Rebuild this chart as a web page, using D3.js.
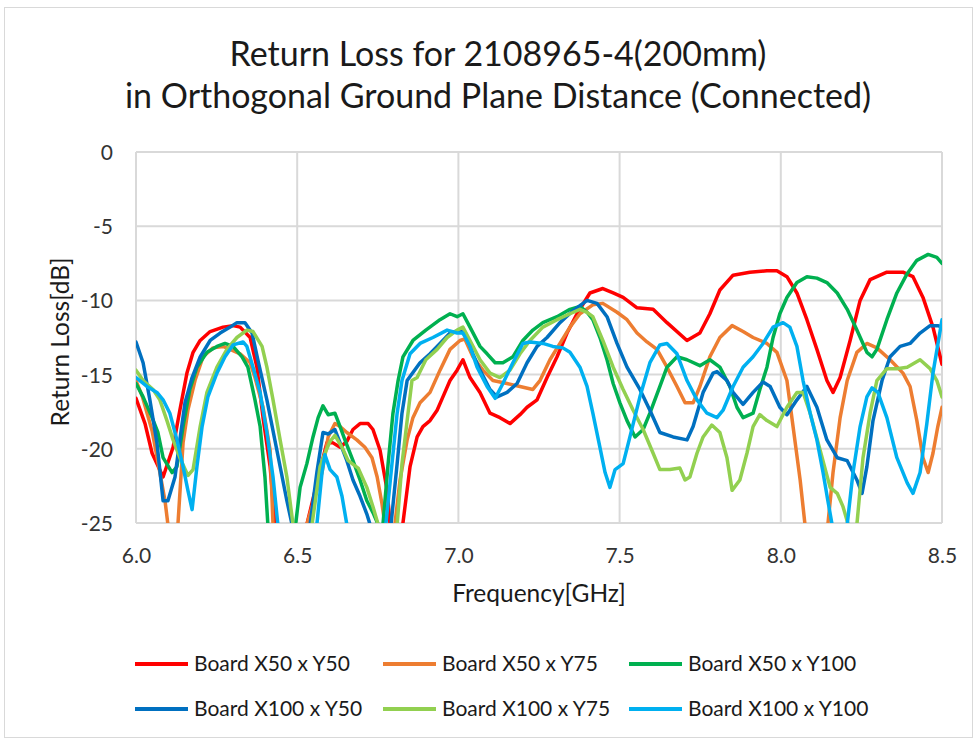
<!DOCTYPE html>
<html>
<head>
<meta charset="utf-8">
<script src="https://cdn.jsdelivr.net/npm/d3@7"></script>
<style>
  html, body { margin: 0; padding: 0; background: #ffffff; }
  svg { display: block; font-family: Lato, "Open Sans", sans-serif; }
</style>
</head>
<body>
<svg id="chart" width="977" height="743"></svg>
<script>
// Return loss measurements, [frequency GHz, return loss dB]
const boardX50Y50 = [[6.000,-16.6],[6.028,-18.3],[6.050,-20.3],[6.084,-21.9],[6.115,-19.9],[6.136,-17.4],[6.158,-14.9],[6.177,-13.5],[6.199,-12.7],[6.230,-12.1],[6.270,-11.8],[6.301,-11.7],[6.323,-11.8],[6.354,-12.5],[6.375,-14.5],[6.394,-17.9],[6.416,-21.2],[6.431,-25.0],[6.450,-28],[6.510,-29],[6.530,-25.1],[6.571,-21.4],[6.592,-19.6],[6.611,-19.6],[6.633,-19.9],[6.654,-19.5],[6.673,-18.7],[6.695,-18.3],[6.720,-18.3],[6.735,-18.7],[6.757,-20.1],[6.779,-22.8],[6.788,-25.1],[6.800,-28],[6.815,-28],[6.828,-25.0],[6.850,-21.2],[6.872,-19.2],[6.890,-18.5],[6.912,-18.1],[6.934,-17.4],[6.952,-16.5],[6.974,-15.4],[6.996,-14.7],[7.014,-14.0],[7.036,-15.2],[7.067,-16.2],[7.098,-17.6],[7.129,-17.9],[7.160,-18.3],[7.191,-17.7],[7.213,-17.2],[7.244,-16.7],[7.275,-15.2],[7.306,-13.8],[7.337,-12.2],[7.368,-10.9],[7.408,-9.5],[7.448,-9.2],[7.480,-9.5],[7.511,-9.8],[7.554,-10.5],[7.604,-10.6],[7.647,-11.5],[7.709,-12.7],[7.749,-12.2],[7.780,-10.9],[7.811,-9.3],[7.852,-8.3],[7.904,-8.1],[7.957,-8.0],[7.988,-8.0],[8.019,-8.4],[8.050,-9.5],[8.081,-11.3],[8.112,-13.3],[8.143,-15.4],[8.162,-16.2],[8.184,-15.2],[8.215,-12.7],[8.246,-10.0],[8.277,-8.6],[8.329,-8.1],[8.379,-8.1],[8.410,-8.4],[8.441,-9.8],[8.472,-11.8],[8.500,-14.3]];

const boardX50Y75 = [[6.000,-15.4],[6.020,-16.5],[6.050,-18.8],[6.074,-21.6],[6.090,-23.5],[6.099,-25.1],[6.110,-28],[6.125,-28],[6.130,-25.1],[6.146,-19.6],[6.161,-17.4],[6.183,-15.4],[6.208,-13.8],[6.239,-13.2],[6.270,-13.1],[6.292,-13.3],[6.323,-13.6],[6.354,-14.2],[6.369,-15.2],[6.394,-17.2],[6.416,-20.1],[6.425,-25.1],[6.440,-28],[6.520,-28],[6.530,-25.1],[6.577,-21.6],[6.596,-19.2],[6.617,-18.3],[6.633,-18.5],[6.654,-18.9],[6.685,-19.4],[6.710,-19.9],[6.732,-20.6],[6.748,-21.9],[6.763,-23.7],[6.772,-25.1],[6.785,-28],[6.795,-28],[6.803,-25.1],[6.819,-22.1],[6.841,-19.4],[6.859,-17.9],[6.881,-16.9],[6.912,-16.2],[6.943,-14.7],[6.974,-13.3],[7.005,-12.7],[7.020,-12.6],[7.045,-13.8],[7.076,-14.7],[7.107,-15.4],[7.151,-15.6],[7.191,-15.8],[7.231,-16.0],[7.253,-15.4],[7.284,-14.0],[7.315,-12.9],[7.346,-11.8],[7.377,-10.9],[7.417,-10.3],[7.448,-10.2],[7.492,-10.8],[7.523,-11.3],[7.554,-12.2],[7.585,-12.8],[7.616,-13.3],[7.647,-14.5],[7.678,-15.8],[7.703,-16.9],[7.728,-16.9],[7.749,-15.8],[7.780,-13.8],[7.811,-12.5],[7.849,-11.7],[7.883,-12.1],[7.914,-12.5],[7.957,-12.9],[7.988,-13.5],[8.019,-15.4],[8.038,-18.5],[8.060,-22.1],[8.075,-25.1],[8.090,-28],[8.135,-28],[8.146,-25.1],[8.162,-21.6],[8.184,-17.9],[8.206,-15.4],[8.236,-13.5],[8.267,-12.9],[8.298,-13.2],[8.339,-14.0],[8.379,-14.9],[8.401,-15.8],[8.422,-18.1],[8.441,-20.6],[8.457,-21.6],[8.472,-20.3],[8.487,-18.5],[8.500,-17.2]];

const boardX50Y100 = [[6.000,-15.6],[6.022,-16.5],[6.050,-17.9],[6.068,-18.9],[6.084,-20.6],[6.112,-21.6],[6.127,-21.2],[6.146,-18.5],[6.167,-16.0],[6.189,-14.5],[6.220,-13.5],[6.251,-13.1],[6.276,-12.9],[6.301,-13.1],[6.329,-13.8],[6.347,-14.5],[6.369,-16.7],[6.385,-18.5],[6.400,-21.9],[6.409,-25.1],[6.420,-28],[6.480,-28],[6.495,-25.1],[6.509,-22.6],[6.530,-21.0],[6.549,-19.2],[6.565,-17.9],[6.580,-17.1],[6.596,-17.7],[6.617,-17.6],[6.633,-18.5],[6.648,-19.4],[6.673,-20.8],[6.695,-22.1],[6.716,-23.5],[6.735,-24.3],[6.751,-25.1],[6.758,-28],[6.760,-28],[6.766,-25.1],[6.782,-21.0],[6.797,-17.6],[6.813,-15.4],[6.828,-13.8],[6.859,-12.7],[6.899,-12.0],[6.943,-11.3],[6.974,-10.9],[6.996,-11.1],[7.014,-10.9],[7.036,-11.8],[7.067,-13.1],[7.089,-13.6],[7.114,-14.2],[7.138,-14.2],[7.169,-13.8],[7.200,-12.7],[7.231,-12.0],[7.262,-11.5],[7.306,-11.1],[7.346,-10.6],[7.377,-10.4],[7.399,-10.8],[7.417,-11.3],[7.439,-12.5],[7.461,-14.0],[7.480,-15.6],[7.501,-16.9],[7.523,-18.1],[7.548,-19.2],[7.573,-18.7],[7.594,-17.6],[7.625,-15.8],[7.647,-14.5],[7.678,-13.8],[7.709,-14.0],[7.749,-14.4],[7.780,-14.0],[7.811,-14.5],[7.842,-15.8],[7.864,-17.2],[7.883,-17.9],[7.914,-17.6],[7.935,-16.0],[7.957,-14.5],[7.976,-12.5],[7.997,-10.9],[8.019,-9.8],[8.050,-8.8],[8.081,-8.4],[8.112,-8.5],[8.143,-8.8],[8.175,-9.5],[8.206,-10.6],[8.236,-12.0],[8.267,-13.5],[8.283,-13.8],[8.298,-13.3],[8.329,-11.3],[8.360,-9.5],[8.392,-8.2],[8.422,-7.3],[8.457,-6.9],[8.484,-7.1],[8.500,-7.5]];

const boardX100Y50 = [[6.000,-12.8],[6.022,-14.2],[6.043,-16.7],[6.065,-19.6],[6.084,-23.5],[6.099,-23.5],[6.121,-21.9],[6.136,-19.4],[6.152,-16.9],[6.174,-15.2],[6.199,-13.8],[6.230,-12.7],[6.261,-12.2],[6.292,-11.8],[6.313,-11.5],[6.338,-11.5],[6.360,-12.2],[6.378,-14.0],[6.406,-16.7],[6.437,-20.1],[6.468,-23.5],[6.484,-25.1],[6.500,-28],[6.530,-28],[6.540,-25.1],[6.561,-21.6],[6.580,-18.9],[6.596,-19.0],[6.617,-18.7],[6.633,-19.6],[6.654,-20.8],[6.673,-22.1],[6.695,-23.2],[6.716,-24.4],[6.726,-25.1],[6.740,-28],[6.780,-28],[6.791,-25.1],[6.810,-21.0],[6.825,-17.6],[6.841,-15.4],[6.881,-14.2],[6.912,-13.6],[6.943,-12.9],[6.974,-12.2],[7.005,-12.0],[7.027,-12.5],[7.045,-13.6],[7.067,-14.7],[7.098,-16.0],[7.120,-16.5],[7.151,-16.2],[7.182,-15.6],[7.213,-14.2],[7.244,-13.1],[7.275,-12.5],[7.315,-11.5],[7.355,-10.7],[7.399,-10.0],[7.430,-10.2],[7.461,-11.1],[7.492,-12.9],[7.523,-14.5],[7.563,-16.0],[7.594,-17.4],[7.625,-18.9],[7.666,-19.2],[7.709,-19.4],[7.728,-18.5],[7.759,-16.2],[7.790,-14.9],[7.802,-14.8],[7.833,-15.4],[7.852,-16.2],[7.883,-17.0],[7.914,-16.2],[7.945,-15.5],[7.967,-15.8],[7.997,-17.2],[8.019,-17.7],[8.050,-16.7],[8.081,-15.8],[8.112,-17.2],[8.143,-19.4],[8.175,-20.6],[8.206,-20.8],[8.236,-22.1],[8.252,-23.0],[8.267,-21.2],[8.286,-18.1],[8.314,-15.4],[8.339,-13.8],[8.370,-13.1],[8.401,-12.9],[8.432,-12.2],[8.463,-11.7],[8.487,-11.7],[8.500,-11.8]];

const boardX100Y75 = [[6.000,-14.7],[6.022,-15.4],[6.053,-16.0],[6.074,-16.7],[6.096,-18.1],[6.115,-19.4],[6.136,-20.6],[6.161,-21.8],[6.177,-21.4],[6.199,-18.5],[6.220,-16.2],[6.251,-14.5],[6.282,-13.3],[6.313,-12.5],[6.344,-12.0],[6.363,-12.1],[6.391,-13.1],[6.406,-14.5],[6.425,-16.7],[6.447,-19.4],[6.468,-21.9],[6.487,-25.1],[6.500,-28],[6.540,-28],[6.546,-25.1],[6.571,-21.2],[6.586,-20.3],[6.602,-19.5],[6.617,-19.1],[6.639,-19.9],[6.658,-20.8],[6.689,-21.3],[6.716,-22.6],[6.735,-23.9],[6.751,-25.1],[6.770,-28],[6.795,-28],[6.810,-25.1],[6.825,-21.0],[6.841,-18.1],[6.856,-15.4],[6.872,-15.2],[6.899,-14.0],[6.934,-13.3],[6.965,-12.5],[6.996,-12.0],[7.014,-11.8],[7.036,-12.7],[7.067,-14.0],[7.098,-14.9],[7.129,-15.2],[7.160,-14.7],[7.191,-13.6],[7.222,-12.7],[7.262,-11.8],[7.306,-11.3],[7.346,-10.9],[7.377,-10.6],[7.399,-10.8],[7.417,-11.1],[7.448,-12.7],[7.480,-14.5],[7.511,-16.0],[7.542,-17.4],[7.573,-18.7],[7.604,-20.3],[7.625,-21.4],[7.656,-21.4],[7.687,-21.3],[7.703,-22.1],[7.718,-21.9],[7.740,-20.3],[7.759,-19.2],[7.786,-18.4],[7.811,-18.9],[7.833,-20.6],[7.849,-22.8],[7.873,-22.1],[7.895,-20.3],[7.914,-18.5],[7.935,-17.7],[7.957,-18.1],[7.988,-18.5],[8.019,-17.2],[8.050,-16.2],[8.069,-16.2],[8.091,-17.6],[8.122,-20.1],[8.153,-22.6],[8.175,-23.0],[8.193,-23.9],[8.209,-25.1],[8.220,-28],[8.230,-28],[8.236,-25.1],[8.255,-20.6],[8.277,-17.6],[8.298,-15.4],[8.329,-14.6],[8.360,-14.6],[8.392,-14.5],[8.432,-14.0],[8.463,-14.6],[8.484,-15.4],[8.500,-16.5]];

const boardX100Y100 = [[6.000,-15.2],[6.034,-15.8],[6.065,-16.2],[6.084,-16.7],[6.105,-17.6],[6.127,-19.4],[6.146,-21.2],[6.161,-22.8],[6.174,-24.1],[6.189,-21.2],[6.205,-18.5],[6.223,-16.5],[6.251,-14.9],[6.276,-13.8],[6.301,-13.0],[6.332,-12.8],[6.344,-13.1],[6.363,-14.5],[6.385,-16.2],[6.406,-18.9],[6.425,-21.9],[6.440,-25.1],[6.450,-28],[6.550,-28],[6.561,-25.1],[6.577,-21.6],[6.586,-20.4],[6.602,-21.4],[6.623,-21.9],[6.639,-23.2],[6.654,-25.1],[6.665,-28],[6.765,-28],[6.775,-25.1],[6.794,-21.0],[6.810,-17.6],[6.825,-15.4],[6.850,-13.6],[6.881,-12.9],[6.921,-12.5],[6.965,-12.0],[6.996,-12.2],[7.014,-12.2],[7.036,-13.1],[7.058,-14.5],[7.089,-15.8],[7.114,-16.6],[7.138,-15.6],[7.169,-14.2],[7.200,-12.9],[7.222,-12.8],[7.262,-12.9],[7.293,-13.1],[7.324,-13.2],[7.346,-13.5],[7.377,-14.5],[7.399,-15.8],[7.417,-17.6],[7.439,-19.9],[7.455,-21.6],[7.470,-22.6],[7.486,-21.4],[7.511,-21.0],[7.532,-19.2],[7.563,-16.5],[7.594,-14.2],[7.625,-13.0],[7.647,-12.9],[7.678,-13.6],[7.709,-15.4],[7.740,-16.7],[7.771,-17.6],[7.802,-17.9],[7.821,-17.4],[7.852,-15.8],[7.883,-14.5],[7.914,-13.8],[7.945,-12.9],[7.976,-11.8],[8.007,-11.5],[8.028,-11.8],[8.050,-13.1],[8.069,-15.4],[8.091,-17.6],[8.112,-19.4],[8.131,-21.6],[8.146,-23.5],[8.159,-25.1],[8.170,-28],[8.195,-28],[8.206,-25.1],[8.224,-21.6],[8.246,-18.5],[8.267,-16.5],[8.283,-15.9],[8.301,-16.2],[8.329,-17.9],[8.360,-20.6],[8.392,-22.3],[8.410,-23.0],[8.432,-21.6],[8.453,-18.3],[8.472,-14.9],[8.500,-11.3]];

const seriesNames = ["Board X50 x Y50", "Board X50 x Y75", "Board X50 x Y100",
                     "Board X100 x Y50", "Board X100 x Y75", "Board X100 x Y100"];
const seriesColors = ["#FF0000", "#ED7D31", "#00B050", "#0070C0", "#92D050", "#00B0F0"];
const seriesValues = [boardX50Y50, boardX50Y75, boardX50Y100, boardX100Y50, boardX100Y75, boardX100Y100];

const xTicks = [6.0, 6.5, 7.0, 7.5, 8.0, 8.5];
const yTicks = [0, -5, -10, -15, -20, -25];
const titleLines = ["Return Loss for 2108965-4(200mm)", "in Orthogonal Ground Plane Distance (Connected)"];

const svg = d3.select("#chart");
const W = 977, H = 743;
const plot = { left: 136, right: 942, top: 152, bottom: 523 };

svg.append("rect").attr("width", W).attr("height", H).attr("fill", "#ffffff");
// chart frame
svg.append("rect")
  .attr("x", 4.5).attr("y", 7.5).attr("width", 968).attr("height", 730)
  .attr("fill", "none").attr("stroke", "#d9d9d9").attr("stroke-width", 1);

const x = d3.scaleLinear().domain([6.0, 8.5]).range([plot.left, plot.right]);
const y = d3.scaleLinear().domain([-25, 0]).range([plot.bottom, plot.top]);

// title
svg.append("g").selectAll("text").data(titleLines).join("text")
  .attr("x", 498).attr("y", (d, i) => 66 + i * 42)
  .attr("text-anchor", "middle").attr("font-size", 34).attr("fill", "#1a1a1a")
  .text(d => d);

// gridlines
const grid = svg.append("g").attr("stroke", "#d9d9d9").attr("stroke-width", 2);
grid.selectAll("line.h").data(yTicks).join("line").attr("class", "h")
  .attr("x1", plot.left).attr("x2", plot.right)
  .attr("y1", d => y(d)).attr("y2", d => y(d));
grid.selectAll("line.v").data(xTicks).join("line").attr("class", "v")
  .attr("y1", plot.top).attr("y2", plot.bottom)
  .attr("x1", d => x(d)).attr("x2", d => x(d));

// axes
const xAxis = svg.append("g").attr("transform", `translate(0,${plot.bottom})`)
  .call(d3.axisBottom(x).tickValues(xTicks).tickFormat(d3.format(".1f")).tickSize(0));
xAxis.select(".domain").remove();
xAxis.selectAll("text").attr("y", 40).attr("dy", 0)
  .attr("font-size", 21).attr("font-family", "Lato").attr("fill", "#333");

const yAxis = svg.append("g").attr("transform", `translate(${plot.left},0)`)
  .call(d3.axisLeft(y).tickValues(yTicks).tickFormat(d3.format("d")).tickSize(0).tickPadding(23));
yAxis.select(".domain").remove();
yAxis.selectAll("text").attr("dy", "0.36em")
  .attr("font-size", 21).attr("font-family", "Lato").attr("fill", "#333")
  .text(d => d === 0 ? "0" : String(d).replace("\u2212", "-"));

// axis titles
svg.append("text").attr("x", (plot.left + plot.right) / 2).attr("y", 602)
  .attr("text-anchor", "middle").attr("font-size", 24.5).attr("fill", "#1a1a1a")
  .text("Frequency[GHz]");
svg.append("text")
  .attr("transform", `translate(69,342) rotate(-90)`)
  .attr("text-anchor", "middle").attr("font-size", 24.5).attr("fill", "#1a1a1a")
  .text("Return Loss[dB]");

// series lines
svg.append("clipPath").attr("id", "plotClip").append("rect")
  .attr("x", plot.left).attr("y", plot.top)
  .attr("width", plot.right - plot.left).attr("height", plot.bottom - plot.top);

const line = d3.line().x(d => x(d[0])).y(d => y(d[1]));
svg.append("g").attr("clip-path", "url(#plotClip)")
  .selectAll("path").data(seriesValues).join("path")
  .attr("d", line)
  .attr("fill", "none")
  .attr("stroke", (d, i) => seriesColors[i])
  .attr("stroke-width", 3.5)
  .attr("stroke-linejoin", "round")
  .attr("stroke-linecap", "round");

// legend
const legendCols = [135, 383, 629];
const legendRows = [664, 709];
const legend = svg.append("g").selectAll("g").data(seriesNames).join("g")
  .attr("transform", (d, i) => `translate(${legendCols[i % 3]},${legendRows[Math.floor(i / 3)]})`);
legend.append("line").attr("x1", 0).attr("x2", 53).attr("y1", 0).attr("y2", 0)
  .attr("stroke", (d, i) => seriesColors[i]).attr("stroke-width", 4);
legend.append("text").attr("x", 59).attr("y", 0).attr("dy", "0.35em")
  .attr("font-size", 21).attr("fill", "#1a1a1a").text(d => d);
</script>
</body>
</html>
